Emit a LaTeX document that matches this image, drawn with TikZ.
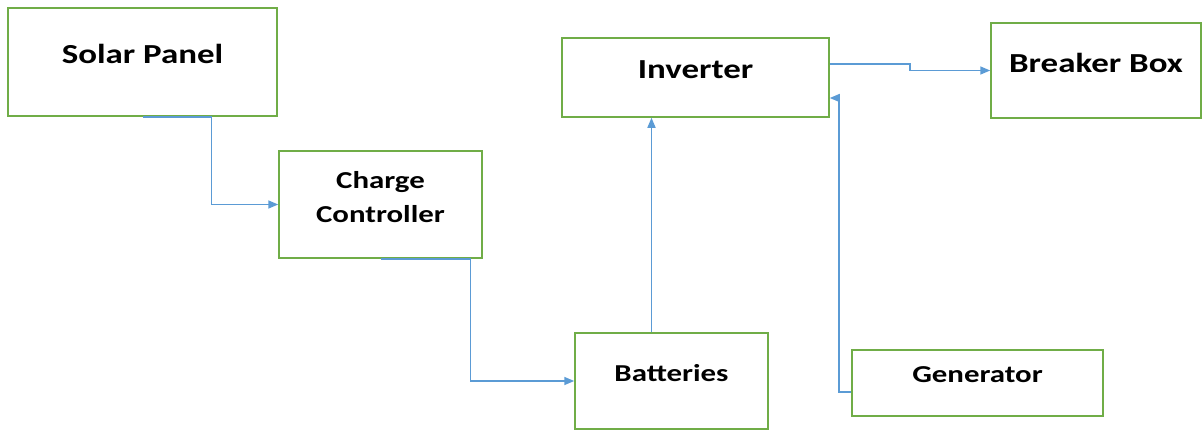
\documentclass[tikz,border=0pt]{standalone}
\usepackage{fontspec}
\setmainfont{Carlito}[FakeStretch=1.27]
\usepackage{xcolor}
\usepackage{tikz}
\usetikzlibrary{arrows.meta,positioning,calc}

\definecolor{boxgreen}{RGB}{112,173,71}
\definecolor{flowblue}{RGB}{91,155,213}

\begin{document}
\begin{tikzpicture}[
  x=1pt, y=-1pt,
  every node/.style={font=\bfseries\fontsize{24.3}{34}\selectfont},
  big/.style={font=\bfseries\fontsize{27.5}{34}\selectfont},
  block/.style={draw=boxgreen, line width=1.5pt, align=center, text depth=16pt, inner sep=0pt},
  flow/.style={-{Triangle[length=10pt, width=8pt]}, flowblue, line width=1.6pt}
]
\useasboundingbox (0,0) rectangle (1203,431);

% Blocks
\node[block, big, minimum width=269pt, minimum height=108pt] (solar) at (142.5,62) {Solar Panel};
\node[block, minimum width=203pt, minimum height=107pt] (charge) at (380.5,204.5) {Charge\\Controller};
\node[block, big, minimum width=267pt, minimum height=79pt] (inverter) at (695.5,77.5) {Inverter};
\node[block, big, minimum width=210pt, minimum height=95pt] (breaker) at (1096,70.5) {Breaker Box};
\node[block, minimum width=193pt, minimum height=96pt] (batteries) at (671.5,381) {Batteries};
\node[block, minimum width=251pt, minimum height=66pt] (generator) at (977.5,383) {Generator};

% Flows
\draw[flow] (solar.south) -- ++(69,0) |- (charge.west);
\draw[flow] (charge.south) -- ++(90,0) |- (batteries.west);
\draw[flow] ([xshift=-20pt]batteries.north) -- ([xshift=-20pt]batteries.north |- inverter.south);
\draw[flow] ([yshift=13.5pt]inverter.east) -- ++(80,0) |- (breaker.west);
\draw[flow] ([yshift=-9pt]generator.west) -- ++(-12,0) |- ([yshift=-20.5pt]inverter.east);

\end{tikzpicture}
\end{document}
